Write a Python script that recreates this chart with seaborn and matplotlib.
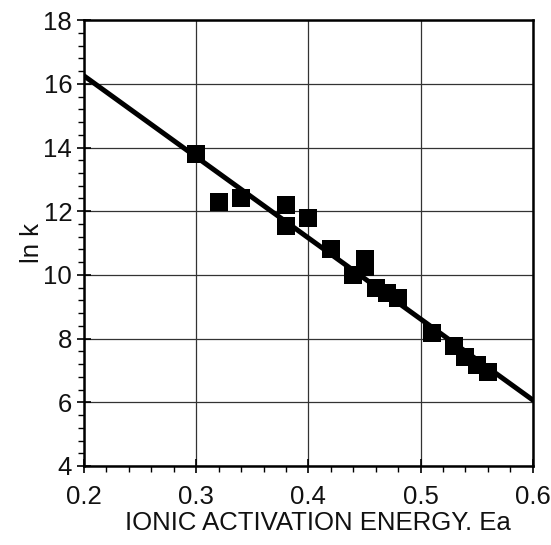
import numpy as np
import pandas as pd
import seaborn as sns
import matplotlib.pyplot as plt
from matplotlib.ticker import MultipleLocator, FormatStrFormatter

ea = [0.30, 0.32, 0.34, 0.38, 0.38, 0.40, 0.42, 0.44, 0.45, 0.45,
      0.46, 0.47, 0.48, 0.51, 0.53, 0.54, 0.55, 0.56]
ln_k = [13.8, 12.3, 12.4, 12.2, 11.55, 11.8, 10.8, 10.0, 10.5, 10.25,
        9.58, 9.43, 9.27, 8.17, 7.77, 7.42, 7.17, 6.96]

# fitted line end points
fit_ea = [0.2, 0.6]
fit_lnk = [16.25, 6.07]

df = pd.DataFrame({"Ea": ea, "lnk": ln_k})
fit = pd.DataFrame({"Ea": fit_ea, "lnk": fit_lnk})

sns.set_style("white")
plt.rcParams["font.family"] = ["Liberation Sans", "DejaVu Sans"]

fig = plt.figure(figsize=(5.51, 5.45), dpi=100)
ax = fig.add_axes([0.1525, 0.145, 0.8145, 0.818])

sns.lineplot(data=fit, x="Ea", y="lnk", color="black", linewidth=3.6, ax=ax, zorder=3)
sns.scatterplot(data=df, x="Ea", y="lnk", marker="s", s=150, color="black",
                edgecolor="black", linewidth=0, ax=ax, zorder=4)

ax.set_xlim(0.2, 0.6)
ax.set_ylim(4, 18)
ax.xaxis.set_major_locator(MultipleLocator(0.1))
ax.xaxis.set_minor_locator(MultipleLocator(0.02))
ax.xaxis.set_major_formatter(FormatStrFormatter("%.1f"))
ax.yaxis.set_major_locator(MultipleLocator(2))
ax.yaxis.set_minor_locator(MultipleLocator(0.4))

ax.grid(which="major", color="#333333", linewidth=0.9)
ax.tick_params(which="major", direction="inout", length=10, width=1.2,
               labelsize=18.5, labelcolor="#111111", color="black",
               bottom=True, left=True)
ax.tick_params(axis="x", which="major", pad=9)
ax.tick_params(which="minor", direction="out", length=4, width=1.0,
               color="black", bottom=True, left=True)
for sp in ax.spines.values():
    sp.set_linewidth(1.8)
    sp.set_color("black")

ax.set_xlabel("IONIC ACTIVATION ENERGY. Ea", fontsize=18.5, color="#111111")
ax.set_ylabel("ln k", fontsize=18.5, color="#111111")
ax.xaxis.set_label_coords(0.52, -0.10)
ax.yaxis.set_label_coords(-0.09, 0.5)

fig.savefig("out.png", dpi=100)
